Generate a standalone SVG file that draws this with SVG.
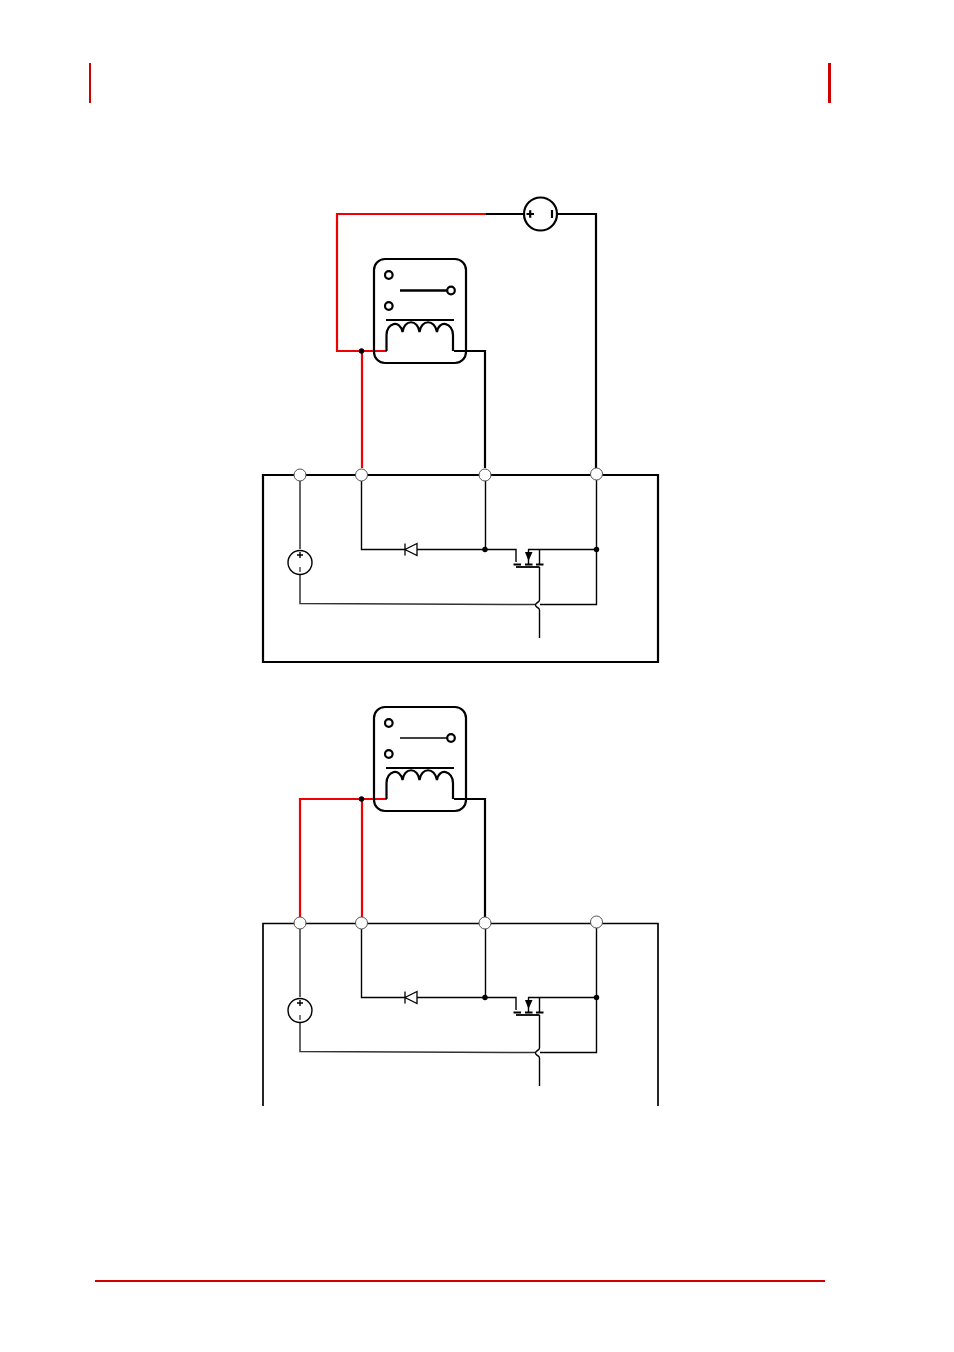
<svg xmlns="http://www.w3.org/2000/svg" xmlns:xlink="http://www.w3.org/1999/xlink" width="954" height="1352" viewBox="0 0 954 1352">
<style>
.k{fill:none;stroke:#000;stroke-width:2.200}
.t{fill:none;stroke:#000;stroke-width:1.400}
.g{fill:none;stroke:#333;stroke-width:1.500}
.r{fill:none;stroke:#f00000;stroke-width:2.200}
.p{fill:#fff;stroke:#555;stroke-width:1}
.d{fill:#000}
.bar{fill:#d00000}
</style>
<defs>
<g id="relay">
<rect x="374" y="259" width="92" height="104" rx="11" ry="11" class="k"/>
<circle cx="388.800" cy="275" r="3.800" fill="#fff" stroke="#000" stroke-width="2.200"/>
<circle cx="388.800" cy="306" r="3.800" fill="#fff" stroke="#000" stroke-width="2.200"/>
<path d="M386 320H454" fill="none" stroke="#000" stroke-width="2"/>
<path d="M386.500 351V335C386.500 323 400 319 402.500 332C404 319 418 319 419.500 332C421 319 435 319 437 332C439 319 453 323 453 335V351" class="k"/>
</g>
<g id="circuit">
<path d="M361.500 475V549.500H405M417 549.500H485.500" class="t"/>
<path d="M485.500 475V549.500M485.500 549.500H516V562M528 549.500H596.500M596.500 474V604.500H540" class="t"/>
<path d="M300 475V549M300 575V603.500L535 604.500" class="g"/>
<circle cx="300" cy="562.500" r="12" fill="#fff" stroke="#000" stroke-width="1.400"/>
<path d="M297 555H303M300 552V558" stroke="#000" stroke-width="1.400"/>
<path d="M300 567V572" stroke="#444" stroke-width="1.400"/>
<path d="M417 543.500L405 549.500L417 555.500ZM405 543.500V555.500" fill="#fff" stroke="#000" stroke-width="1.300"/>
<path d="M528.500 549.500V564M539.500 549.500V565" class="t"/>
<path d="M525 552H532.500L528.500 561Z" class="d"/>
<path d="M513.500 564.500H521M525 564.500H532.500M536 564.500H543.500" fill="none" stroke="#000" stroke-width="2"/>
<path d="M516 567H539.500" fill="none" stroke="#000" stroke-width="1.800"/>
<path d="M539.500 567V600C539.500 603 535.500 602 535.500 605C535.500 608 539.500 607 539.500 610V638" class="t"/>
<circle cx="485" cy="549.500" r="2.700" class="d"/>
<circle cx="596.500" cy="549.500" r="2.700" class="d"/>
</g>
</defs>
<rect x="89" y="63" width="2" height="40" class="bar"/>
<rect x="828" y="63" width="3" height="40" class="bar"/>
<rect x="95" y="1280" width="730" height="2" class="bar"/>

<g id="connectors">
<path d="M486 214H337V351H387M362 351V468" class="r"/>
<path d="M486 214H524M557 214H596V468M454 351H485V468" class="k"/>
<path d="M263 475H658V662H263Z" class="k"/>
<path d="M300 917V799H387M362 799V917" class="r"/>
<path d="M454 799H485V917" class="k"/>
<path d="M263 1106V923.500H658V1106" fill="none" stroke="#000" stroke-width="1.700"/>
</g>

<g id="battery">
<circle cx="540.500" cy="214" r="16.500" fill="#fff" stroke="#000" stroke-width="2.200"/>
<path d="M526.500 214H534M530.200 210.200V217.800M552 210V218" fill="none" stroke="#000" stroke-width="2.200"/>
</g>
<g id="relay-top"><use xlink:href="#relay"/><path d="M400 290.500H447" fill="none" stroke="#000" stroke-width="2.400"/><circle cx="451" cy="290.500" r="3.800" fill="#fff" stroke="#000" stroke-width="2.200"/></g>
<g id="relay-bottom"><use xlink:href="#relay" y="448"/><path d="M400 738H447" fill="none" stroke="#000" stroke-width="1.600"/><circle cx="451" cy="738" r="3.800" fill="#fff" stroke="#000" stroke-width="2.200"/></g>
<g id="circuit-top"><use xlink:href="#circuit"/></g>
<g id="circuit-bottom"><use xlink:href="#circuit" y="448"/></g>
<circle cx="361.500" cy="351" r="2.700" class="d"/>
<circle cx="361.500" cy="799" r="2.700" class="d"/>
<g id="terminals-top">
<circle cx="300" cy="475" r="6" class="p"/><circle cx="361.500" cy="475" r="6" class="p"/><circle cx="485" cy="475" r="6" class="p"/><circle cx="596.500" cy="474" r="6" class="p"/>
</g>
<g id="terminals-bottom">
<circle cx="300" cy="923" r="6" class="p"/><circle cx="361.500" cy="923" r="6" class="p"/><circle cx="485" cy="923" r="6" class="p"/><circle cx="596.500" cy="922" r="6" class="p"/>
</g>
</svg>
